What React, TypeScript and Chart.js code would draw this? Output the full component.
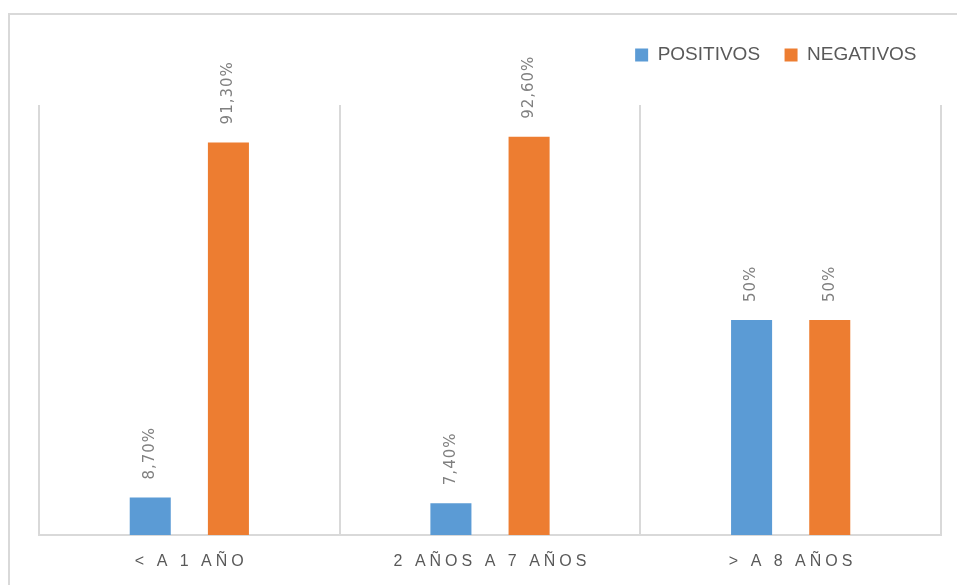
import React, { useEffect, useRef } from "react";
import { Chart, registerables } from "chart.js";

Chart.register(...registerables);

const categories = ["< A 1 AÑO", "2 AÑOS A 7 AÑOS", "> A 8 AÑOS"];
const positivos = [8.7, 7.4, 50];
const negativos = [91.3, 92.6, 50];
const positivosLabels = ["8,70%", "7,40%", "50%"];
const negativosLabels = ["91,30%", "92,60%", "50%"];
const seriesNames = ["POSITIVOS", "NEGATIVOS"];

const BLUE = "#5B9BD5";
const ORANGE = "#ED7D31";
const GRID = "#d9d9d9";

const legendHeightPlugin = {
  id: "legendHeight",
  beforeInit(chart: any) {
    const l = chart.legend;
    if (!l) return;
    const orig = l.fit;
    l.fit = function () {
      orig.call(this);
      this.height = 84;
    };
  },
};

const valueLabelsPlugin = {
  id: "valueLabels",
  afterDatasetsDraw(chart: any) {
    const ctx = chart.ctx;
    const allLabels = [positivosLabels, negativosLabels];
    ctx.save();
    ctx.font = "15px 'DejaVu Sans'";
    ctx.fillStyle = "#808080";
    (ctx as any).letterSpacing = "1px";
    ctx.textAlign = "left";
    ctx.textBaseline = "middle";
    chart.data.datasets.forEach((_ds: any, di: number) => {
      const meta = chart.getDatasetMeta(di);
      meta.data.forEach((el: any, i: number) => {
        ctx.save();
        ctx.translate(el.x, el.y - 18);
        ctx.rotate(-Math.PI / 2);
        ctx.fillText(allLabels[di][i], 0, 0);
        ctx.restore();
      });
    });
    ctx.restore();
  },
};

const xLabelsPlugin = {
  id: "xLabels",
  afterDraw(chart: any) {
    const ctx = chart.ctx;
    const xs = chart.scales.x;
    const ls = 4;
    ctx.save();
    ctx.font = "16px 'Liberation Sans'";
    ctx.fillStyle = "#595959";
    (ctx as any).letterSpacing = ls + "px";
    ctx.textAlign = "center";
    ctx.textBaseline = "middle";
    categories.forEach((c, i) => {
      const x = xs.getPixelForValue(i);
      ctx.fillText(c, x + ls / 2, chart.chartArea.bottom + 27);
    });
    ctx.restore();
  },
};

export default function App() {
  const ref = useRef<HTMLCanvasElement | null>(null);
  useEffect(() => {
    if (!ref.current) return;
    const chart = new Chart(ref.current, {
      type: "bar",
      data: {
        labels: categories,
        datasets: [
          {
            label: seriesNames[0],
            data: positivos,
            backgroundColor: BLUE,
            categoryPercentage: 0.52,
            barPercentage: 0.525,
          },
          {
            label: seriesNames[1],
            data: negativos,
            backgroundColor: ORANGE,
            categoryPercentage: 0.52,
            barPercentage: 0.525,
          },
        ],
      },
      options: {
        responsive: false,
        animation: false,
        layout: { padding: { top: 6, right: 16, left: 29, bottom: 50 } },
        plugins: {
          legend: {
            display: true,
            position: "top",
            align: "end",
            labels: {
              boxWidth: 13,
              boxHeight: 13,
              padding: 24.5,
              color: "#595959",
              font: { family: "'Liberation Sans'", size: 19 },
            },
          },
          tooltip: { enabled: false },
        },
        scales: {
          x: {
            display: true,
            grid: {
              display: true,
              offset: true,
              color: GRID,
              lineWidth: 2,
              drawTicks: false,
            },
            border: { display: true, color: GRID, width: 2 },
            ticks: { display: false },
          },
          y: {
            display: false,
            min: 0,
            max: 100,
          },
        },
      },
      plugins: [legendHeightPlugin, valueLabelsPlugin, xLabelsPlugin],
    });
    return () => chart.destroy();
  }, []);

  return (
    <div
      style={{
        position: "fixed",
        left: 8,
        top: 13,
        width: 949,
        height: 572,
        borderTop: "2px solid #d9d9d9",
        borderLeft: "2px solid #d9d9d9",
        boxSizing: "border-box",
        background: "#fff",
        overflow: "hidden",
      }}
    >
      <canvas ref={ref} width={947} height={570} style={{ display: "block" }} />
    </div>
  );
}
